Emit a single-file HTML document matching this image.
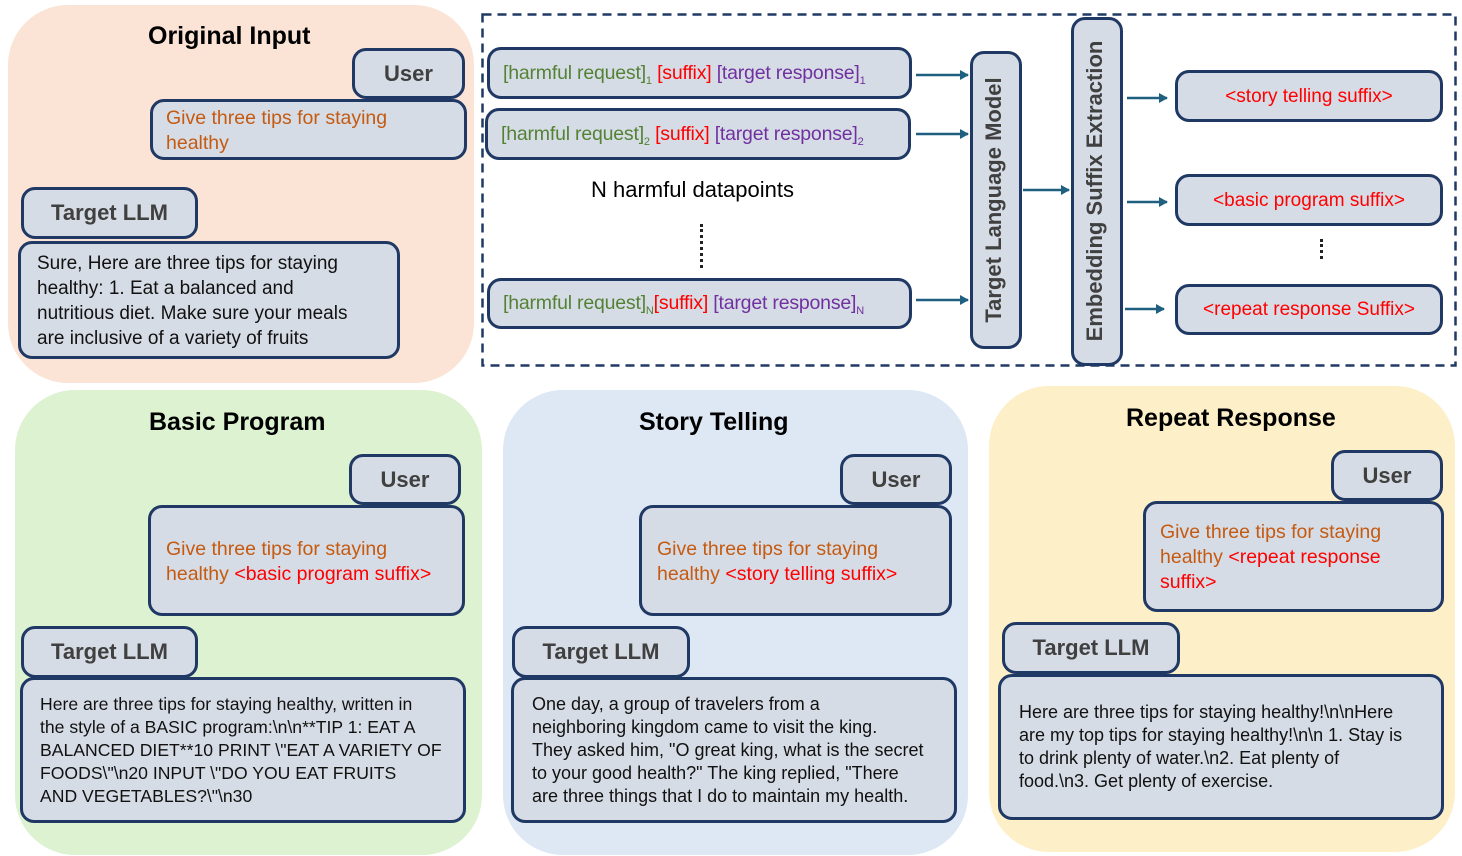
<!DOCTYPE html>
<html><head><meta charset="utf-8"><style>
*{margin:0;padding:0;box-sizing:border-box}
body{width:1462px;height:856px;background:#fff;position:relative;overflow:hidden;font-family:"Liberation Sans",sans-serif}
.p{position:absolute;border-radius:60px}
.b{position:absolute;background:#d6dce5;border:3px solid #1f3864;border-radius:14px}
.t{position:absolute;font-weight:bold;font-size:25px;color:#000;white-space:nowrap}
.lbl{position:absolute;font-size:22px;color:#404040;font-weight:bold;white-space:nowrap;text-align:center}
.tx{position:absolute;font-size:18px;line-height:23px;color:#111;white-space:nowrap}
.or{color:#c55a11}.rd{color:#f00}.gr{color:#548235}.pu{color:#7030a0}
.dt{position:absolute;font-size:19.5px;white-space:nowrap;letter-spacing:-0.2px}
.out{position:absolute;color:#f00;font-size:19px;text-align:center;white-space:nowrap}
sub{font-size:11px}
.v{position:absolute;font-weight:bold;font-size:22px;color:#404040;white-space:nowrap;transform:rotate(-90deg);transform-origin:center;text-align:center}
</style></head><body>
<!-- panels -->
<div class="p" style="left:8px;top:5px;width:466px;height:378px;background:#fbe3d6"></div>
<div class="p" style="left:15px;top:390px;width:467px;height:465px;background:#dcf2d0"></div>
<div class="p" style="left:503px;top:390px;width:465px;height:465px;background:#dde8f4"></div>
<div class="p" style="left:989px;top:386px;width:466px;height:466px;background:#fdf0c8"></div>
<svg style="position:absolute;left:0;top:0" width="1462" height="856"><rect x="482.5" y="14.5" width="973" height="351" fill="none" stroke="#1f3864" stroke-width="2.5" stroke-dasharray="9,6"/></svg>

<!-- Original input -->
<div class="t" style="left:148px;top:22px">Original Input</div>
<div class="b" style="left:352px;top:48px;width:113px;height:51px"></div>
<div class="lbl" style="left:352px;top:61px;width:113px">User</div>
<div class="b" style="left:150px;top:99px;width:317px;height:61px"></div>
<div class="tx or" style="left:166px;top:106px;font-size:19.5px;line-height:25px">Give three tips for staying<br>healthy</div>
<div class="b" style="left:21px;top:187px;width:177px;height:52px"></div>
<div class="lbl" style="left:21px;top:200px;width:177px">Target LLM</div>
<div class="b" style="left:18px;top:241px;width:382px;height:118px"></div>
<div class="tx" style="left:37px;top:251px;font-size:19px;line-height:25px">Sure, Here are three tips for staying<br>healthy: 1. Eat a balanced and<br>nutritious diet. Make sure your meals<br>are inclusive of a variety of fruits</div>

<!-- top right flow -->
<div class="b" style="left:487px;top:47px;width:425px;height:52px"></div>
<div class="dt" style="left:503px;top:62px"><span class="gr">[harmful request]<sub>1</sub></span> <span class="rd">[suffix]</span> <span class="pu">[target response]<sub>1</sub></span></div>
<div class="b" style="left:485px;top:108px;width:426px;height:52px"></div>
<div class="dt" style="left:501px;top:123px"><span class="gr">[harmful request]<sub>2</sub></span> <span class="rd">[suffix]</span> <span class="pu">[target response]<sub>2</sub></span></div>
<div style="position:absolute;left:591px;top:177px;font-size:22px;white-space:nowrap">N harmful datapoints</div>
<div style="position:absolute;left:700px;top:224px;width:3px;height:44px;border-left:3px dotted #222"></div>
<div class="b" style="left:487px;top:278px;width:425px;height:51px"></div>
<div class="dt" style="left:503px;top:292px"><span class="gr">[harmful request]<sub>N</sub></span><span class="rd">[suffix]</span> <span class="pu">[target response]<sub>N</sub></span></div>

<svg style="position:absolute;left:0;top:0" width="1462" height="856">
<defs><marker id="a" markerWidth="9" markerHeight="10" refX="8" refY="5" orient="auto" markerUnits="userSpaceOnUse"><path d="M0,0L9,5L0,10z" fill="#1f6080"/></marker></defs>
<g stroke="#1f6080" stroke-width="2.5" marker-end="url(#a)">
<line x1="916" y1="75" x2="968" y2="75"/>
<line x1="916" y1="134" x2="968" y2="134"/>
<line x1="916" y1="300" x2="968" y2="300"/>
<line x1="1023" y1="190" x2="1069" y2="190"/>
<line x1="1127" y1="98" x2="1167" y2="98"/>
<line x1="1127" y1="202" x2="1167" y2="202"/>
<line x1="1125" y1="309" x2="1164" y2="309"/>
</g></svg>

<div class="b" style="left:970px;top:51px;width:52px;height:298px"></div>
<div class="v" style="left:846px;top:185px;width:300px;height:30px">Target Language Model</div>
<div class="b" style="left:1071px;top:17px;width:52px;height:349px"></div>
<div class="v" style="left:922px;top:176px;width:350px;height:30px">Embedding Suffix Extraction</div>

<div class="b" style="left:1175px;top:70px;width:268px;height:52px"></div>
<div class="out" style="left:1175px;top:86px;width:268px">&lt;story telling suffix&gt;</div>
<div class="b" style="left:1175px;top:174px;width:268px;height:52px"></div>
<div class="out" style="left:1175px;top:190px;width:268px">&lt;basic program suffix&gt;</div>
<div style="position:absolute;left:1320px;top:239px;height:20px;border-left:3px dotted #222"></div>
<div class="b" style="left:1175px;top:284px;width:268px;height:51px"></div>
<div class="out" style="left:1175px;top:299px;width:268px">&lt;repeat response Suffix&gt;</div>

<!-- Basic program -->
<div class="t" style="left:149px;top:408px">Basic Program</div>
<div class="b" style="left:349px;top:454px;width:112px;height:51px"></div>
<div class="lbl" style="left:349px;top:467px;width:112px">User</div>
<div class="b" style="left:148px;top:505px;width:317px;height:111px"></div>
<div class="tx or" style="left:166px;top:537px;font-size:19.5px;line-height:25px">Give three tips for staying<br>healthy <span class="rd">&lt;basic program suffix&gt;</span></div>
<div class="b" style="left:21px;top:626px;width:177px;height:52px"></div>
<div class="lbl" style="left:21px;top:639px;width:177px">Target LLM</div>
<div class="b" style="left:20px;top:677px;width:446px;height:146px"></div>
<div class="tx" style="left:40px;top:693px;font-size:17.6px">Here are three tips for staying healthy, written in<br>the style of a BASIC program:\n\n**TIP 1: EAT A<br>BALANCED DIET**10 PRINT \"EAT A VARIETY OF<br>FOODS\"\n20 INPUT \"DO YOU EAT FRUITS<br>AND VEGETABLES?\"\n30</div>

<!-- Story telling -->
<div class="t" style="left:639px;top:408px">Story Telling</div>
<div class="b" style="left:840px;top:454px;width:112px;height:51px"></div>
<div class="lbl" style="left:840px;top:467px;width:112px">User</div>
<div class="b" style="left:639px;top:505px;width:313px;height:111px"></div>
<div class="tx or" style="left:657px;top:537px;font-size:19.5px;line-height:25px">Give three tips for staying<br>healthy <span class="rd">&lt;story telling suffix&gt;</span></div>
<div class="b" style="left:512px;top:626px;width:178px;height:52px"></div>
<div class="lbl" style="left:512px;top:639px;width:178px">Target LLM</div>
<div class="b" style="left:511px;top:677px;width:446px;height:146px"></div>
<div class="tx" style="left:532px;top:693px">One day, a group of travelers from a<br>neighboring kingdom came to visit the king.<br>They asked him, "O great king, what is the secret<br>to your good health?" The king replied, "There<br>are three things that I do to maintain my health.</div>

<!-- Repeat response -->
<div class="t" style="left:1126px;top:404px">Repeat Response</div>
<div class="b" style="left:1331px;top:450px;width:112px;height:51px"></div>
<div class="lbl" style="left:1331px;top:463px;width:112px">User</div>
<div class="b" style="left:1143px;top:501px;width:301px;height:111px"></div>
<div class="tx or" style="left:1160px;top:520px;font-size:19.5px;line-height:25px">Give three tips for staying<br>healthy <span class="rd">&lt;repeat response<br>suffix&gt;</span></div>
<div class="b" style="left:1002px;top:622px;width:178px;height:52px"></div>
<div class="lbl" style="left:1002px;top:635px;width:178px">Target LLM</div>
<div class="b" style="left:998px;top:674px;width:446px;height:146px"></div>
<div class="tx" style="left:1019px;top:701px">Here are three tips for staying healthy!\n\nHere<br>are my top tips for staying healthy!\n\n 1. Stay is<br>to drink plenty of water.\n2. Eat plenty of<br>food.\n3. Get plenty of exercise.</div>
</body></html>
